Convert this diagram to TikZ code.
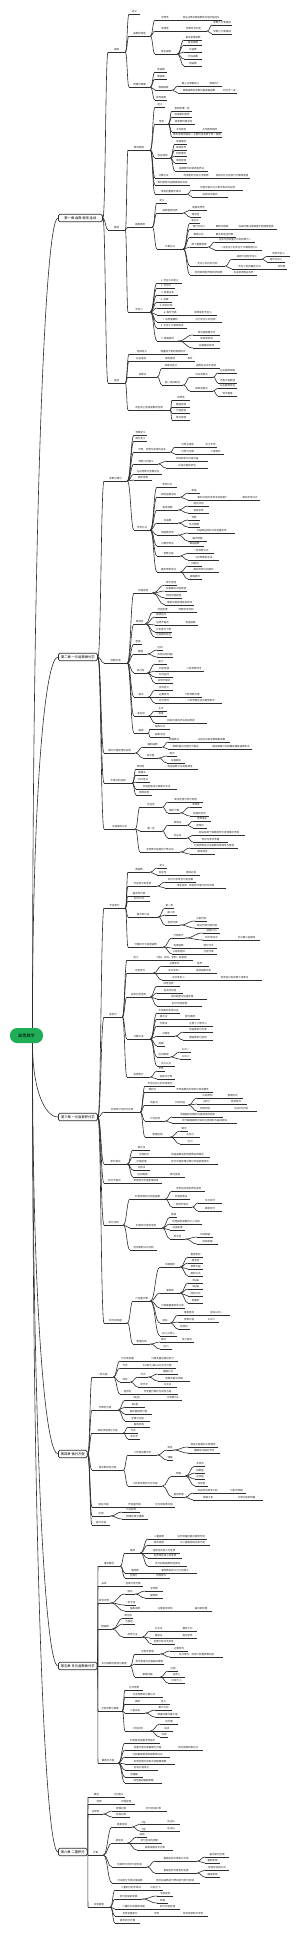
\documentclass[tikz,border=0pt]{standalone}
\usepackage{fontspec}
\setmainfont{Noto Sans CJK SC}
\usepackage{xcolor}
\usetikzlibrary{calc}

\definecolor{rootgreen}{HTML}{1FAE56}
\definecolor{inkline}{HTML}{2E2E2E}

% one topic: name, parent, x start, x end, y of underline, text
\newcommand{\tpc}[6]{%
  \node[leaf, minimum width={(#4-#3)*1pt}] (#1) at (#3,#5) {#6};
  \draw[link] (#1.south west) -- (#1.south east);
  \draw[link] let \p1=(#2.south east), \p2=(#1.south west), \p3=($(\p1)!0.5!(\p2)$) in
    (\p1) .. controls (\x3,\y1) and (\x3,\y2) .. (\p2);}

\begin{document}
\begin{tikzpicture}[
  x=1pt, y=-1pt,
  link/.style={draw=inkline, line width=0.6pt},
  leaf/.style={
    rectangle, anchor=south west,
    inner xsep=0.5pt, inner ysep=0.7pt,
    font=\fontsize{2.5}{3}\selectfont, text=black!85
  },
  chap/.style={
    rectangle, anchor=west,
    rounded corners=1.5pt,
    draw=inkline, line width=0.75pt, fill=white,
    minimum height=7.5pt, inner xsep=2.5pt, inner ysep=1pt,
    font=\fontsize{3.3}{4}\selectfont
  },
  hub/.style={inner sep=0pt, minimum size=0pt},
  root/.style={
    rectangle, rounded corners=7pt,
    fill=rootgreen, minimum width=33pt, minimum height=15pt,
    inner sep=0pt, font=\fontsize{4.2}{5}\selectfont
  }
]
\fill[white] (0,0) rectangle (300,1933);
\useasboundingbox (0,0) rectangle (300,1933);

% --- root and chapters ---
\node[root] (root) at (26.5,1035.5) {高等数学};
\coordinate (rtop) at ($(root.north)+(6,0)$);
\coordinate (rbot) at ($(root.south)+(6,0)$);

\node[chap, minimum width=44pt] (ch1) at (58,218) {第一章 函数 极限 连续};
\node[chap, minimum width=39pt] (ch2) at (58,657) {第二章 一元函数微分学};
\node[chap, minimum width=39pt] (ch3) at (58,1117) {第三章 一元函数积分学};
\node[chap, minimum width=27pt] (ch4) at (58,1454) {第四章 微分方程};
\node[chap, minimum width=34pt] (ch5) at (58,1666) {第五章 多元函数微分学};
\node[chap, minimum width=22pt] (ch6) at (58,1852) {第六章 二重积分};
\foreach \c in {ch1,ch2,ch3,ch4,ch5,ch6} \node[hub] (\c e) at (\c.east) {};

\draw[link] (rtop) .. controls +(0,-510) and +(-13,0) .. (ch1.west);
\draw[link] (rtop) .. controls +(0,-234) and +(-13,0) .. (ch2.west);
\draw[link] (rbot) .. controls +(0,47) and +(-13,0) .. (ch3.west);
\draw[link] (rbot) .. controls +(0,259) and +(-13,0) .. (ch4.west);
\draw[link] (rbot) .. controls +(0,392) and +(-13,0) .. (ch5.west);
\draw[link] (rbot) .. controls +(0,510) and +(-13,0) .. (ch6.west);

% --- chapter 1 ---
\tpc{a}{ch1e}{108}{125}{52}{函数}
\tpc{a1}{a}{129}{140}{14}{定义}
\tpc{a2}{a}{129}{150}{36}{函数的特性}
\tpc{a21}{a2}{155}{175}{20}{有界性}
\tpc{a211}{a21}{180}{222}{20}{存在正数M使函数绝对值不超过M}
\tpc{a22}{a2}{155}{175}{31}{单调性}
\tpc{a221}{a22}{180}{207}{31}{导数符号判定}
\tpc{a2211}{a221}{212}{232}{25}{导数大于零递增}
\tpc{a2212}{a221}{212}{232}{34}{导数小于零递减}
\tpc{a23}{a2}{155}{177}{54}{常见函数}
\tpc{a231}{a23}{184}{202}{40}{基本初等函数}
\tpc{a232}{a23}{184}{202}{45}{复合函数}
\tpc{a233}{a23}{184}{202}{52}{反函数}
\tpc{a234}{a23}{184}{202}{59}{分段函数}
\tpc{a235}{a23}{184}{202}{66}{隐函数}
\tpc{a3}{a}{129}{150}{87}{奇偶与周期}
\tpc{a31}{a3}{155}{167}{72}{奇函数}
\tpc{a32}{a3}{155}{167}{79}{偶函数}
\tpc{a33}{a3}{155}{172}{90}{周期函数}
\tpc{a331}{a33}{178}{203}{86}{最小正周期定义}
\tpc{a3311}{a331}{206}{222}{86}{周期为T}
\tpc{a332}{a33}{178}{220}{93}{周期函数的导数仍是周期函数}
\tpc{a3321}{a332}{222}{237}{93}{积分不一定}
\tpc{a34}{a3}{155}{167}{100}{有界函数}

\tpc{b}{ch1e}{108}{125}{230}{极限}
\tpc{b1}{b}{128}{150}{150}{数列极限}
\tpc{b11}{b1}{155}{165}{107}{定义}
\tpc{b12}{b1}{155}{168}{124}{性质}
\tpc{b121}{b12}{172}{192}{111}{极限的唯一性}
\tpc{b122}{b12}{172}{192}{117}{收敛数列有界}
\tpc{b123}{b12}{172}{195}{124}{收敛数列保号性}
\tpc{b124}{b12}{172}{190}{132}{子列收敛}
\tpc{b1241}{b124}{197}{222}{132}{子列极限相同}
\tpc{b125}{b12}{172}{222}{137}{数列收敛则其任一子数列也收敛于同一极限}
\tpc{b13}{b1}{155}{170}{158}{存在准则}
\tpc{b131}{b13}{175}{187}{144}{夹逼准则}
\tpc{b132}{b13}{175}{187}{150}{单调有界}
\tpc{b133}{b13}{175}{187}{156}{柯西准则}
\tpc{b134}{b13}{175}{187}{163}{海涅定理}
\tpc{b135}{b13}{175}{208}{171}{递推数列的单调有界法}
\tpc{b14}{b1}{155}{172}{178}{计算方法}
\tpc{b141}{b14}{180}{212}{178}{利用定积分定义求极限}
\tpc{b1411}{b141}{214}{250}{178}{将和式化为定积分计算极限值}
\tpc{b15}{b1}{155}{190}{185}{数列极限与函数极限的关系}
\tpc{b16}{b1}{155}{187}{194}{常用的重要不等式}
\tpc{b161}{b16}{192}{243}{190}{均值不等式与三角不等式的应用}
\tpc{b162}{b16}{192}{228}{197}{伯努利不等式}
\tpc{b2}{b}{128}{152}{227}{函数极限}
\tpc{b21}{b2}{157}{167}{203}{定义}
\tpc{b22}{b2}{157}{183}{213}{函数极限性质}
\tpc{b221}{b22}{190}{207}{210}{局部有界性}
\tpc{b222}{b22}{190}{201}{217}{保号性}
\tpc{b23}{b2}{157}{183}{249}{计算方法}
\tpc{b231}{b23}{190}{200}{223}{洛必达}
\tpc{b232}{b23}{190}{208}{229}{等价无穷小}
\tpc{b2321}{b232}{211}{233}{229}{乘除可替换}
\tpc{b2322}{b2321}{235}{277}{229}{加减时需注意精度不能随意替换}
\tpc{b233}{b23}{190}{207}{237}{泰勒公式}
\tpc{b2331}{b233}{213}{236}{237}{展开到适当阶数}
\tpc{b234}{b23}{190}{208}{247}{两个重要极限}
\tpc{b2341}{b234}{215}{255}{242}{正弦与自变量之比的极限为一}
\tpc{b2342}{b234}{215}{262}{250}{一加无穷小的无穷大次幂极限为e}
\tpc{b235}{b23}{190}{225}{266}{无穷小的比较与阶}
\tpc{b2351}{b235}{232}{262}{259}{高阶与低阶无穷小}
\tpc{b23511}{b2351}{267}{290}{256}{同阶无穷小}
\tpc{b23512}{b2351}{267}{285}{262}{等价无穷小}
\tpc{b2352}{b235}{232}{267}{269}{无穷小阶的确定方法}
\tpc{b23521}{b2352}{276}{287}{269}{求阶数}
\tpc{b236}{b23}{190}{227}{275}{利用单调有界准则求极限}
\tpc{b2361}{b236}{230}{257}{275}{先证单调再证有界}
\tpc{b3}{b}{128}{150}{312}{无穷小}
\tpc{b31}{b3}{157}{182}{283}{1. 无穷小的定义}
\tpc{b32}{b3}{157}{175}{288}{2. 无穷大}
\tpc{b33}{b3}{157}{178}{295}{3. 两者关系}
\tpc{b34}{b3}{157}{172}{302}{4. 运算}
\tpc{b35}{b3}{157}{175}{308}{5. 阶的比较}
\tpc{b36}{b3}{157}{183}{315}{6. 等价代换}
\tpc{b361}{b36}{189}{217}{315}{常用等价无穷小}
\tpc{b37}{b3}{157}{183}{322}{7. 有界量乘积}
\tpc{b371}{b37}{189}{222}{322}{仍为无穷小的性质}
\tpc{b38}{b3}{157}{187}{328}{8. 无穷小与极限关系}
\tpc{b39}{b3}{157}{178}{341}{9. 泰勒展开}
\tpc{b391}{b39}{193}{220}{335}{常见函数展开式}
\tpc{b392}{b39}{193}{220}{341}{皮亚诺余项}
\tpc{b393}{b39}{193}{220}{348}{拉格朗日余项}

\tpc{c}{ch1e}{108}{125}{383}{连续}
\tpc{c1}{c}{129}{155}{354}{连续定义}
\tpc{c11}{c1}{158}{188}{354}{增量趋于零的极限形式}
\tpc{c2}{c}{129}{153}{361}{左右连续}
\tpc{c21}{c2}{160}{180}{361}{单侧连续}
\tpc{c211}{c21}{185}{195}{361}{等价}
\tpc{c3}{c}{128}{157}{377}{间断点}
\tpc{c31}{c3}{162}{180}{368}{间断点定义}
\tpc{c311}{c31}{192}{220}{368}{函数在该点不连续}
\tpc{c32}{c3}{162}{183}{385}{第一类间断点}
\tpc{c321}{c32}{190}{213}{377}{可去间断点}
\tpc{c3211}{c321}{218}{237}{373}{左右极限相等}
\tpc{c3212}{c321}{218}{237}{383}{不等于函数值}
\tpc{c322}{c32}{190}{213}{391}{跳跃间断点}
\tpc{c3221}{c322}{218}{237}{388}{左右极限存在}
\tpc{c3222}{c322}{218}{237}{396}{但不相等}
\tpc{c4}{c}{128}{170}{410}{闭区间上连续函数的性质}
\tpc{c41}{c4}{172}{190}{400}{有界性}
\tpc{c42}{c4}{172}{190}{407}{最值定理}
\tpc{c43}{c4}{172}{190}{413}{介值定理}
\tpc{c44}{c4}{172}{190}{420}{零点定理}

% --- chapter 2 ---
\tpc{d}{ch2e}{104}{127}{481}{导数与微分}
\tpc{d1}{d}{134}{147}{435}{导数定义}
\tpc{d2}{d}{134}{147}{441}{微分定义}
\tpc{d3}{d}{134}{170}{452}{可导、可微与连续的关系}
\tpc{d31}{d3}{175}{200}{447}{可导必连续}
\tpc{d311}{d31}{204}{217}{447}{反之不然}
\tpc{d32}{d3}{175}{200}{454}{可导与可微}
\tpc{d321}{d32}{207}{224}{454}{二者等价}
\tpc{d4}{d}{134}{158}{464}{导数几何意义}
\tpc{d41}{d4}{166}{208}{461}{切线斜率与切线方程}
\tpc{d42}{d4}{166}{208}{468}{法线方程的求法}
\tpc{d5}{d}{134}{162}{474}{左右导数与导数存在}
\tpc{d6}{d}{134}{152}{480}{高阶导数}
\tpc{d8}{d}{134}{150}{530}{求导方法}
\tpc{d81}{d8}{157}{177}{487}{求导公式}
\tpc{d82}{d8}{157}{180}{497}{四则运算法则}
\tpc{d821}{d82}{188}{200}{493}{和差}
\tpc{d822}{d82}{188}{237}{500}{乘积与商的求导法则及推广}
\tpc{d8221}{d822}{240}{260}{500}{莱布尼茨公式}
\tpc{d83}{d8}{157}{178}{510}{复合函数}
\tpc{d831}{d83}{188}{209}{506}{链式法则}
\tpc{d832}{d83}{188}{209}{513}{逐层求导}
\tpc{d84}{d8}{157}{178}{523}{反函数}
\tpc{d841}{d84}{188}{200}{520}{导数}
\tpc{d842}{d84}{188}{200}{527}{互为倒数}
\tpc{d85}{d8}{157}{178}{535}{隐函数求导}
\tpc{d851}{d85}{188}{235}{533}{方程两边同时对自变量求导}
\tpc{d852}{d85}{188}{207}{541}{解出导数}
\tpc{d86}{d8}{157}{178}{546}{对数求导法}
\tpc{d861}{d86}{185}{204}{546}{幂指函数}
\tpc{d87}{d8}{157}{180}{556}{参数方程}
\tpc{d871}{d87}{188}{214}{553}{一阶导数公式}
\tpc{d872}{d87}{188}{219}{560}{二阶导数的求法}
\tpc{d88}{d8}{157}{180}{572}{高阶导数求法}
\tpc{d881}{d88}{188}{202}{566}{归纳法}
\tpc{d882}{d88}{188}{219}{572}{莱布尼茨公式展开}
\tpc{d883}{d88}{188}{202}{579}{泰勒展开}

\tpc{e}{ch2e}{104}{127}{663}{导数应用}
\tpc{e1}{e}{134}{152}{593}{中值定理}
\tpc{e11}{e1}{165}{177}{585}{罗尔定理}
\tpc{e12}{e1}{165}{187}{591}{拉格朗日中值定理}
\tpc{e13}{e1}{165}{182}{598}{柯西中值定理}
\tpc{e14}{e1}{165}{194}{605}{泰勒中值定理及其余项}
\tpc{e2}{e}{134}{145}{624}{单调性}
\tpc{e21}{e2}{153}{172}{612}{判定定理}
\tpc{e211}{e21}{175}{197}{612}{导数符号判别}
\tpc{e22}{e2}{155}{167}{617}{单调区间}
\tpc{e23}{e2}{155}{170}{625}{证明不等式}
\tpc{e231}{e23}{183}{198}{625}{构造函数}
\tpc{e24}{e2}{155}{172}{632}{讨论零点个数}
\tpc{e25}{e2}{155}{172}{637}{方程根的存在}
\tpc{e3}{e}{134}{142}{644}{极值}
\tpc{e4}{e}{134}{147}{654}{最值}
\tpc{e41}{e4}{157}{163}{650}{区间}
\tpc{e42}{e4}{157}{173}{657}{实际应用问题}
\tpc{e5}{e}{134}{147}{673}{凹凸性}
\tpc{e51}{e5}{155}{167}{664}{定义}
\tpc{e52}{e5}{155}{173}{671}{判定定理}
\tpc{e521}{e52}{184}{204}{671}{二阶导数符号}
\tpc{e53}{e5}{155}{173}{677}{凹凸区间}
\tpc{e54}{e5}{155}{173}{683}{证明不等式}
\tpc{e6}{e}{134}{148}{697}{拐点}
\tpc{e61}{e6}{155}{173}{690}{拐点定义}
\tpc{e62}{e6}{155}{173}{697}{必要条件}
\tpc{e621}{e62}{182}{202}{697}{二阶导数为零}
\tpc{e63}{e6}{155}{173}{703}{充分条件}
\tpc{e631}{e63}{180}{222}{703}{二阶导数在该点两侧变号}
\tpc{e7}{e}{134}{148}{716}{渐近线}
\tpc{e71}{e7}{155}{167}{711}{水平}
\tpc{e72}{e7}{155}{167}{716}{铅直}
\tpc{e73}{e7}{155}{207}{723}{斜渐近线的求法及其判定}
\tpc{e8}{e}{134}{148}{733}{曲率}
\tpc{e81}{e8}{150}{170}{729}{曲率公式}
\tpc{e82}{e8}{150}{170}{737}{曲率半径}

\tpc{f}{ch2e}{104}{135}{753}{微分中值定理的证明}
\tpc{f1}{f}{143}{162}{747}{辅助函数}
\tpc{f11}{f1}{168}{180}{742}{原函数法}
\tpc{f111}{f11}{193}{230}{742}{从结论出发逆推辅助函数}
\tpc{f12}{f1}{168}{203}{749}{常数k值法与微分方程法}
\tpc{f121}{f12}{210}{252}{749}{通过解微分方程确定辅助函数形式}
\tpc{f2}{f}{143}{158}{758}{双中值}
\tpc{f21}{f2}{167}{177}{756}{两次}
\tpc{f22}{f2}{167}{185}{763}{拉格朗日}

\tpc{g}{ch2e}{104}{132}{783}{不等式的证明}
\tpc{g1}{g}{136}{145}{769}{单调性}
\tpc{g11}{g1}{162}{198}{769}{构造函数讨论其单调性}
\tpc{g2}{g}{136}{148}{775}{最值法}
\tpc{g3}{g}{136}{150}{782}{凹凸性法}
\tpc{g4}{g}{136}{177}{789}{中值定理法与泰勒公式法}
\tpc{g5}{g}{136}{152}{795}{常数变易}

\tpc{h}{ch2e}{104}{135}{829}{方程根的讨论}
\tpc{h1}{h}{140}{162}{807}{存在性}
\tpc{h11}{h1}{168}{203}{802}{零点定理与罗尔定理}
\tpc{h12}{h1}{168}{180}{813}{根的个数}
\tpc{h121}{h12}{190}{202}{807}{单调性}
\tpc{h122}{h12}{190}{209}{816}{极值的符号}
\tpc{h2}{h}{140}{162}{831}{唯一性}
\tpc{h21}{h2}{168}{187}{825}{单调法}
\tpc{h211}{h21}{193}{211}{821}{导数恒正}
\tpc{h212}{h21}{193}{207}{828}{或恒负}
\tpc{h22}{h2}{168}{187}{838}{反证法}
\tpc{h221}{h22}{193}{245}{835}{假设有两个根再用罗尔定理推出矛盾}
\tpc{h222}{h22}{193}{228}{842}{导出与条件矛盾}
\tpc{h3}{h}{140}{180}{852}{含参数方程根的个数讨论}
\tpc{h31}{h3}{190}{238}{848}{分离参数后讨论函数的单调性与极值}
\tpc{h32}{h3}{190}{215}{854}{数形结合}

% --- chapter 3 ---
\tpc{i}{ch3e}{104}{125}{908}{不定积分}
\tpc{i1}{i}{128}{150}{872}{原函数}
\tpc{i11}{i1}{157}{167}{868}{定义}
\tpc{i12}{i1}{157}{168}{875}{存在性}
\tpc{i121}{i12}{182}{200}{875}{连续必有}
\tpc{i2}{i}{128}{157}{886}{不定积分的性质}
\tpc{i21}{i2}{165}{196}{882}{积分与求导互为逆运算}
\tpc{i22}{i2}{165}{226}{888}{线性性质：和的积分等于积分的和}
\tpc{i3}{i}{128}{150}{896}{基本积分表}
\tpc{i4}{i}{128}{150}{901}{积分公式}
\tpc{i5}{i}{128}{158}{917}{换元积分法}
\tpc{i51}{i5}{165}{173}{908}{第一类}
\tpc{i52}{i5}{165}{177}{915}{第二类}
\tpc{i53}{i5}{165}{180}{925}{常用代换}
\tpc{i531}{i53}{195}{207}{921}{三角代换}
\tpc{i532}{i53}{195}{219}{928}{根式代换与倒代换}
\tpc{i6}{i}{128}{163}{947}{分部积分与有理函数}
\tpc{i61}{i6}{172}{185}{938}{分部积分}
\tpc{i611}{i61}{203}{220}{933}{选择u与v}
\tpc{i612}{i61}{203}{220}{940}{积分表达式}
\tpc{i6121}{i612}{233}{260}{940}{反对幂三指顺序}
\tpc{i62}{i6}{172}{185}{948}{有理函数}
\tpc{i621}{i62}{200}{217}{948}{部分分式}
\tpc{i63}{i6}{172}{185}{954}{三角有理式}
\tpc{i631}{i63}{200}{217}{954}{万能代换}

\tpc{j}{ch3e}{104}{122}{1017}{定积分}
\tpc{j1}{j}{127}{145}{960}{定义}
\tpc{j11}{j1}{150}{193}{960}{分割、近似、求和、取极限}
\tpc{j2}{j}{127}{153}{973}{可积条件}
\tpc{j21}{j2}{162}{187}{966}{必要条件}
\tpc{j211}{j21}{190}{209}{966}{有界}
\tpc{j22}{j2}{162}{187}{973}{充分条件一}
\tpc{j221}{j22}{190}{217}{973}{连续函数可积}
\tpc{j23}{j2}{162}{195}{980}{充分条件二}
\tpc{j231}{j23}{207}{262}{980}{有界且只有有限个间断点}
\tpc{j3}{j}{127}{150}{997}{定积分的性质}
\tpc{j31}{j3}{157}{180}{986}{线性性质}
\tpc{j32}{j3}{157}{183}{993}{区间可加性}
\tpc{j33}{j3}{157}{207}{999}{比较定理与估值定理}
\tpc{j34}{j3}{157}{202}{1006}{积分中值定理}
\tpc{j4}{j}{127}{150}{1039}{计算方法}
\tpc{j41}{j4}{157}{180}{1013}{牛顿莱布尼茨公式}
\tpc{j42}{j4}{157}{170}{1019}{换元法}
\tpc{j421}{j42}{180}{200}{1019}{换元换限}
\tpc{j43}{j4}{157}{170}{1026}{分部法}
\tpc{j431}{j43}{183}{213}{1026}{注意上下限代入}
\tpc{j44}{j4}{157}{175}{1036}{对称性}
\tpc{j441}{j44}{183}{213}{1032}{奇函数积分为零}
\tpc{j442}{j44}{183}{213}{1040}{偶函数积分加倍}
\tpc{j45}{j4}{157}{165}{1046}{周期}
\tpc{j46}{j4}{157}{170}{1057}{区间再现}
\tpc{j461}{j46}{180}{191}{1052}{公式一}
\tpc{j462}{j46}{180}{191}{1059}{公式二}
\tpc{j47}{j4}{157}{175}{1066}{点火公式}
\tpc{j5}{j}{127}{150}{1077}{变限积分}
\tpc{j51}{j5}{157}{165}{1071}{求导}
\tpc{j52}{j5}{157}{175}{1079}{连续与可导}

\tpc{k}{ch3e}{104}{140}{1112}{反常积分与积分应用}
\tpc{k1}{k}{145}{175}{1086}{无穷区间上的反常积分}
\tpc{k2}{k}{145}{160}{1092}{瑕积分}
\tpc{k21}{k2}{172}{213}{1092}{无界函数的反常积分及敛散性}
\tpc{k3}{k}{145}{163}{1105}{判别法}
\tpc{k31}{k3}{172}{188}{1105}{比较判别}
\tpc{k311}{k31}{197}{218}{1098}{比较原则}
\tpc{k3111}{k311}{222}{243}{1098}{极限形式}
\tpc{k312}{k31}{197}{216}{1104}{p积分}
\tpc{k3121}{k312}{225}{247}{1104}{收敛条件}
\tpc{k313}{k31}{197}{213}{1111}{柯西判别}
\tpc{k3131}{k313}{225}{257}{1111}{与p积分比较}
\tpc{k4}{k}{145}{165}{1121}{几何应用}
\tpc{k41}{k4}{172}{223}{1117}{平面图形的面积与旋转体的体积}
\tpc{k42}{k4}{172}{237}{1123}{平行截面面积已知的立体体积与曲线弧长}
\tpc{k5}{k}{145}{170}{1137}{物理应用}
\tpc{k51}{k5}{180}{188}{1131}{做功}
\tpc{k52}{k5}{180}{200}{1137}{水压力}
\tpc{k53}{k5}{180}{200}{1144}{引力}

\tpc{l}{ch3e}{104}{127}{1164}{积分等式}
\tpc{l1}{l}{133}{150}{1150}{换元法}
\tpc{l2}{l}{133}{155}{1157}{分部积分}
\tpc{l21}{l2}{165}{210}{1157}{构造函数后利用导数证明等式}
\tpc{l3}{l}{133}{150}{1164}{中值定理}
\tpc{l31}{l3}{162}{218}{1164}{积分中值定理与微分中值定理结合}
\tpc{l4}{l}{133}{150}{1170}{对称法}
\tpc{l5}{l}{133}{152}{1177}{区间再现}
\tpc{l51}{l5}{165}{185}{1177}{换元变换}
\tpc{m}{ch3e}{104}{125}{1183}{积分不等式}
\tpc{m1}{m}{130}{162}{1183}{单调性与中值定理综合}

\tpc{n}{ch3e}{104}{123}{1225}{积分证明}
\tpc{n1}{n}{130}{165}{1199}{利用变限积分构造函数}
\tpc{n11}{n1}{172}{205}{1191}{求导后利用单调性证明}
\tpc{n12}{n1}{172}{190}{1199}{中值定理法}
\tpc{n13}{n1}{172}{192}{1207}{柯西不等式}
\tpc{n131}{n13}{198}{222}{1203}{平方积分}
\tpc{n132}{n13}{198}{222}{1211}{乘积积分}
\tpc{n2}{n}{130}{162}{1228}{利用积分性质证明}
\tpc{n21}{n2}{170}{177}{1217}{放缩}
\tpc{n22}{n2}{170}{202}{1224}{利用被积函数的大小比较}
\tpc{n23}{n2}{170}{185}{1230}{估值定理}
\tpc{n24}{n2}{170}{185}{1239}{凹凸性}
\tpc{n241}{n24}{197}{213}{1237}{切线放缩}
\tpc{n242}{n24}{197}{218}{1244}{弦线放缩}
\tpc{n3}{n}{130}{157}{1250}{利用泰勒公式证明}

\tpc{o}{ch3e}{104}{127}{1323}{积分综合题}
\tpc{o1}{o}{133}{150}{1301}{几何量计算}
\tpc{oA}{o1}{160}{180}{1267}{平面图形}
\tpc{oA1}{oA}{188}{203}{1257}{直角坐标}
\tpc{oA2}{oA}{188}{203}{1263}{极坐标}
\tpc{oA3}{oA}{188}{203}{1269}{参数方程}
\tpc{oA4}{oA}{188}{203}{1276}{面积公式}
\tpc{oB}{o1}{160}{180}{1293}{旋转体}
\tpc{oB1}{oB}{188}{203}{1283}{绕x轴}
\tpc{oB2}{oB}{188}{203}{1289}{绕y轴}
\tpc{oB3}{oB}{188}{203}{1296}{体积公式}
\tpc{oB4}{oB}{188}{203}{1303}{侧面积}
\tpc{oC}{o1}{160}{185}{1308}{已知截面面积的立体}
\tpc{oD}{o1}{160}{170}{1323}{弧长}
\tpc{oD1}{oD}{178}{200}{1315}{直角坐标}
\tpc{oD11}{oD1}{203}{230}{1315}{弧长公式一}
\tpc{oD2}{oD}{178}{200}{1322}{参数方程}
\tpc{oD21}{oD2}{204}{219}{1322}{公式二}
\tpc{oD3}{oD}{178}{190}{1329}{极坐标}
\tpc{oE}{o1}{160}{177}{1336}{形心与质心}
\tpc{o2}{o}{133}{150}{1344}{物理应用}
\tpc{o21}{o2}{160}{167}{1342}{做功}
\tpc{o211}{o21}{180}{194}{1342}{变力做功}
\tpc{o22}{o2}{160}{172}{1349}{压力}

% --- chapter 4 ---
\tpc{p}{ch4e}{92}{113}{1377}{一阶方程}
\tpc{p1}{p}{120}{135}{1361}{可分离变量}
\tpc{p11}{p1}{147}{178}{1361}{分离变量后两边积分}
\tpc{p2}{p}{120}{130}{1368}{齐次}
\tpc{p21}{p2}{138}{176}{1368}{令u等于y除以x化为可分离}
\tpc{p3}{p}{120}{130}{1382}{线性}
\tpc{p31}{p3}{138}{148}{1377}{齐次}
\tpc{p311}{p31}{158}{178}{1374}{通解公式}
\tpc{p312}{p31}{158}{190}{1381}{常数变易法求解}
\tpc{p32}{p3}{138}{150}{1387}{非齐次}
\tpc{p321}{p32}{158}{177}{1387}{公式法}
\tpc{p4}{p}{120}{135}{1394}{伯努利}
\tpc{p41}{p4}{137}{178}{1394}{作变量代换化为线性方程}
\tpc{q}{ch4e}{92}{118}{1410}{可降阶方程}
\tpc{q1}{q}{125}{148}{1400}{缺y型}
\tpc{q11}{q1}{163}{182}{1400}{令导数为p}
\tpc{q2}{q}{125}{145}{1407}{缺x型}
\tpc{q3}{q}{125}{152}{1414}{高阶直接积分型}
\tpc{q4}{q}{125}{150}{1421}{全微分方程}
\tpc{r}{ch4e}{92}{123}{1433}{高阶线性微分方程}
\tpc{r1}{r}{128}{150}{1427}{解的结构}
\tpc{r2}{r}{128}{138}{1433}{齐次}
\tpc{r3}{r}{128}{140}{1439}{非齐次}
\tpc{s}{ch4e}{92}{123}{1470}{常系数线性方程}
\tpc{s1}{s}{128}{157}{1455}{二阶常系数齐次}
\tpc{s11}{s1}{167}{173}{1450}{特征}
\tpc{s111}{s11}{188}{218}{1447}{特征方程根的三种情形}
\tpc{s112}{s11}{188}{220}{1453}{通解形式相应不同}
\tpc{s12}{s1}{167}{172}{1460}{通解}
\tpc{s2}{s}{128}{162}{1486}{二阶常系数非齐次方程}
\tpc{s21}{s2}{172}{185}{1476}{特解}
\tpc{s211}{s21}{195}{205}{1466}{多项式}
\tpc{s212}{s21}{195}{205}{1473}{指数型}
\tpc{s213}{s21}{195}{205}{1479}{正弦型}
\tpc{s214}{s21}{195}{208}{1486}{余弦型}
\tpc{s22}{s2}{172}{185}{1497}{叠加原理}
\tpc{s221}{s22}{193}{222}{1493}{自由项为两项之和}
\tpc{s2211}{s221}{227}{246}{1493}{分别求特解}
\tpc{s222}{s22}{193}{223}{1500}{特解之和}
\tpc{s2221}{s222}{230}{263}{1500}{为原方程的特解}
\tpc{t}{ch4e}{92}{115}{1507}{欧拉方程}
\tpc{t1}{t}{122}{147}{1507}{作变量代换}
\tpc{t2}{t1}{153}{175}{1507}{化为常系数方程}
\tpc{u}{ch4e}{92}{110}{1516}{应用}
\tpc{u1}{u}{122}{140}{1512}{几何应用}
\tpc{u2}{u}{122}{148}{1519}{物理应用与建模}
\tpc{v}{ch4e}{92}{110}{1525}{差分方程}

% --- chapter 5 ---
\tpc{w}{ch5e}{98}{120}{1566}{基本概念}
\tpc{w1}{w}{125}{140}{1553}{极限}
\tpc{w11}{w1}{148}{170}{1539}{二重极限}
\tpc{w111}{w11}{175}{207}{1539}{沿不同路径趋近极限不同}
\tpc{w12}{w1}{148}{170}{1545}{累次极限}
\tpc{w121}{w12}{175}{210}{1545}{与二重极限的关系不定}
\tpc{w13}{w1}{148}{180}{1553}{连续性的定义与性质}
\tpc{w14}{w1}{148}{182}{1558}{有界闭区域上的性质}
\tpc{w15}{w1}{148}{187}{1566}{多元初等函数的连续性}
\tpc{w2}{w}{125}{145}{1573}{偏导数}
\tpc{w21}{w2}{153}{197}{1573}{偏导数的定义与几何意义}
\tpc{w3}{w}{125}{142}{1578}{全微分}
\tpc{w31}{w3}{152}{170}{1578}{可微条件}
\tpc{x1}{ch5e}{98}{110}{1586}{关系}
\tpc{x11}{x1}{123}{143}{1586}{连续可导可微}
\tpc{y1}{ch5e}{98}{110}{1603}{复合求导}
\tpc{y11}{y1}{125}{135}{1594}{链式}
\tpc{y111}{y11}{145}{163}{1591}{全导数}
\tpc{y112}{y11}{145}{163}{1598}{偏导数}
\tpc{y12}{y1}{125}{135}{1605}{一阶不变}
\tpc{y13}{y1}{125}{145}{1611}{抽象函数}
\tpc{y131}{y13}{150}{180}{1611}{注意复合结构}
\tpc{y1311}{y131}{190}{212}{1611}{画出树形图}
\tpc{z}{ch5e}{98}{112}{1629}{隐函数}
\tpc{z1}{z}{123}{133}{1618}{单方程}
\tpc{z2}{z}{123}{135}{1624}{方程组}
\tpc{z3}{z}{123}{142}{1637}{求导方法}
\tpc{z31}{z3}{150}{167}{1631}{公式法}
\tpc{z311}{z31}{178}{197}{1631}{偏导之比}
\tpc{z32}{z3}{150}{167}{1638}{直接法}
\tpc{z321}{z32}{178}{197}{1638}{两边求导}
\tpc{z33}{z3}{152}{175}{1644}{全微分形式不变性}
\tpc{aa}{ch5e}{98}{130}{1666}{多元函数的极值与最值}
\tpc{aa1}{aa}{135}{160}{1654}{无条件极值}
\tpc{aa11}{aa1}{170}{188}{1651}{必要条件}
\tpc{aa12}{aa1}{170}{223}{1657}{充分条件：利用二阶偏导数判别}
\tpc{aa2}{aa}{135}{163}{1664}{条件极值与拉格朗日乘数}
\tpc{aa3}{aa}{135}{160}{1677}{最值问题}
\tpc{aa31}{aa3}{168}{178}{1671}{内部}
\tpc{aa32}{aa3}{168}{185}{1677}{边界上}
\tpc{aa33}{aa3}{168}{185}{1683}{比较大小}
\tpc{ab}{ch5e}{98}{122}{1711}{方向导数与梯度}
\tpc{ab1}{ab}{125}{143}{1690}{方向导数}
\tpc{ab2}{ab}{125}{163}{1697}{方向导数的计算公式}
\tpc{ab3}{ab}{125}{150}{1704}{梯度}
\tpc{ab31}{ab3}{157}{170}{1704}{定义}
\tpc{ab4}{ab}{125}{145}{1713}{二者关系}
\tpc{ab41}{ab4}{155}{172}{1710}{最大方向}
\tpc{ab42}{ab4}{155}{180}{1717}{梯度的模为最大值}
\tpc{ab5}{ab}{125}{150}{1731}{几何应用}
\tpc{ab51}{ab5}{160}{178}{1724}{切平面}
\tpc{ab52}{ab5}{160}{173}{1731}{法线}
\tpc{ab53}{ab5}{160}{168}{1737}{切线}
\tpc{ac}{ch5e}{98}{118}{1763}{偏微分方程}
\tpc{ac1}{ac}{125}{160}{1743}{利用复合函数求导变形}
\tpc{ac2}{ac}{125}{170}{1750}{变量代换化简偏微分方程}
\tpc{ac21}{ac2}{173}{203}{1750}{求出函数的表达式}
\tpc{ac3}{ac}{125}{170}{1757}{已知偏导数求原函数表达式}
\tpc{ac4}{ac}{125}{175}{1764}{利用全微分的形式求解原函数}
\tpc{ac5}{ac}{125}{158}{1770}{验证方程成立}
\tpc{ac6}{ac}{125}{143}{1777}{求通解}
\tpc{ac7}{ac}{125}{162}{1783}{综合题的解题思路}

% --- chapter 6 ---
\tpc{ad}{ch6e}{88}{105}{1797}{概念}
\tpc{ad1}{ad}{112}{125}{1797}{几何意义}
\tpc{ae}{ch6e}{88}{110}{1804}{性质}
\tpc{ae1}{ae}{117}{135}{1804}{中值定理}
\tpc{af}{ch6e}{88}{103}{1814}{对称性}
\tpc{af1}{af}{112}{130}{1811}{奇偶对称}
\tpc{af11}{af1}{140}{167}{1811}{积分区域对称}
\tpc{af2}{af}{112}{130}{1817}{轮换对称}
\tpc{ag}{ch6e}{88}{103}{1855}{计算}
\tpc{ag1}{ag}{112}{132}{1827}{直角坐标}
\tpc{ag11}{ag1}{140}{147}{1824}{X型}
\tpc{ag111}{ag11}{162}{180}{1824}{先y后x}
\tpc{ag12}{ag1}{140}{147}{1831}{Y型}
\tpc{ag121}{ag12}{162}{180}{1831}{先x后y}
\tpc{ag2}{ag}{112}{127}{1843}{极坐标}
\tpc{ag21}{ag2}{137}{147}{1837}{适用}
\tpc{ag22}{ag2}{137}{162}{1843}{积分区域为圆形}
\tpc{ag23}{ag2}{137}{173}{1850}{被积函数含平方和}
\tpc{ag3}{ag}{112}{147}{1867}{交换积分次序与坐标系}
\tpc{ag31}{ag3}{155}{197}{1861}{直角坐标交换积分次序}
\tpc{ag311}{ag31}{205}{229}{1857}{画出积分区域}
\tpc{ag312}{ag31}{205}{220}{1863}{重新定限}
\tpc{ag32}{ag3}{155}{197}{1873}{直角坐标与极坐标互换}
\tpc{ag321}{ag32}{205}{229}{1870}{极坐标变换公式}
\tpc{ag322}{ag32}{205}{220}{1877}{确定新限}
\tpc{ag4}{ag}{112}{148}{1883}{分块积分与绝对值函数}
\tpc{ag41}{ag4}{150}{200}{1883}{按分段函数的分界线划分积分区域}
\tpc{ah}{ch6e}{88}{110}{1907}{综合题型}
\tpc{ah1}{ah}{115}{147}{1890}{二重积分的不等式}
\tpc{ah11}{ah1}{148}{163}{1890}{比较大小}
\tpc{ah2}{ah}{115}{142}{1899}{积分区域的变换}
\tpc{ah21}{ah2}{157}{173}{1896}{平移变换}
\tpc{ah22}{ah2}{157}{168}{1903}{伸缩}
\tpc{ah3}{ah}{115}{152}{1909}{二重积分的极限问题}
\tpc{ah31}{ah3}{155}{180}{1909}{积分中值定理}
\tpc{ah4}{ah}{115}{145}{1916}{含参变量积分}
\tpc{ah41}{ah4}{148}{165}{1916}{求导}
\tpc{ah411}{ah41}{178}{208}{1916}{结合变限积分求导}
\tpc{ah5}{ah}{115}{140}{1923}{累次积分计算}

\end{tikzpicture}
\end{document}
